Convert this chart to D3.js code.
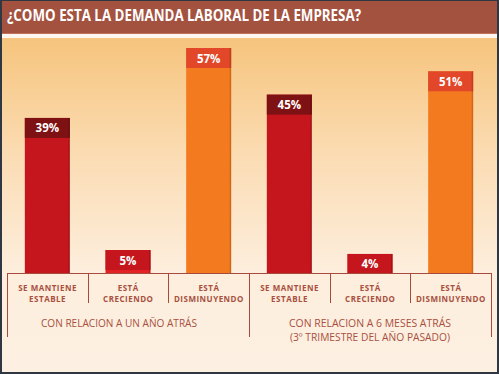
<!DOCTYPE html>
<html><head><meta charset="utf-8">
<script src="https://cdn.jsdelivr.net/npm/d3@7"></script>
<style>html,body{margin:0;padding:0;background:#2e3742;}svg{display:block;}</style>
</head><body>
<script>
const title = "¿COMO ESTA LA DEMANDA LABORAL DE LA EMPRESA?";
const categories = ["g1a","g1b","g1c","g2a","g2b","g2c"];
const categoryLabels = [["SE MANTIENE","ESTABLE"],["ESTÁ","CRECIENDO"],["ESTÁ","DISMINUYENDO"],["SE MANTIENE","ESTABLE"],["ESTÁ","CRECIENDO"],["ESTÁ","DISMINUYENDO"]];
const values = [39, 5, 57, 45, 4, 51];
const kinds = ["estable","creciendo","disminuyendo","estable","creciendo","disminuyendo"];
const groups = [["CON RELACION A UN AÑO ATRÁS"],["CON RELACION A 6 MESES ATRÁS","(3º TRIMESTRE DEL AÑO PASADO)"]];

const W=499,H=374;
const svg=d3.select("body").append("svg").attr("width",W).attr("height",H);
const defs=svg.append("defs");
const g=defs.append("linearGradient").attr("id","bg").attr("x1",0).attr("x2",0).attr("y1",0).attr("y2",1);
g.append("stop").attr("offset","0%").attr("stop-color","#f6c47d");
g.append("stop").attr("offset","35%").attr("stop-color","#fbdcb3");
g.append("stop").attr("offset","70%").attr("stop-color","#fdeedd");
g.append("stop").attr("offset","100%").attr("stop-color","#fdf0e2");

// frame
svg.append("rect").attr("x",0).attr("y",0).attr("width",W).attr("height",H).attr("fill","#2e3742");
svg.append("rect").attr("x",2).attr("y",38).attr("width",495).attr("height",334).attr("fill","url(#bg)");
svg.append("rect").attr("x",2).attr("y",1).attr("width",495).attr("height",33).attr("fill","#a3523f");
svg.append("rect").attr("x",2).attr("y",33).attr("width",495).attr("height",1).attr("fill","#c2705e");
svg.append("rect").attr("x",2).attr("y",34).attr("width",495).attr("height",4).attr("fill","#fdf6f0");
svg.append("text").attr("x",7).attr("y",21).text(title)
  .attr("fill","#ffffff").attr("font-family","Open Sans").attr("font-weight","bold")
  .attr("font-size",15.5).attr("textLength",354).attr("lengthAdjust","spacingAndGlyphs");

const x=d3.scaleBand().domain(categories).range([7,491]).paddingInner(0).paddingOuter(0);
const y=d3.scaleLinear().domain([0,57]).range([269.5,48]);
const base=273, barW=45, capH=20;
const col={
  estable:{cap:"#7d1113",body:"#c5161d"},
  creciendo:{cap:"#c5161d",body:"#e42226"},
  disminuyendo:{cap:"#e2472a",body:"#f47a20"}
};
const data=values.map((v,i)=>({v,cat:categories[i],kind:kinds[i],lab:categoryLabels[i]}));
const bars=svg.append("g").selectAll("g").data(data).join("g");
bars.append("rect")
  .attr("x",d=>x(d.cat)+x.bandwidth()/2-barW/2)
  .attr("y",d=>y(d.v)).attr("width",barW).attr("height",d=>base-y(d.v))
  .attr("fill",d=>col[d.kind].body);
bars.append("rect")
  .attr("x",d=>x(d.cat)+x.bandwidth()/2-barW/2)
  .attr("y",d=>y(d.v)).attr("width",barW).attr("height",d=>Math.min(capH,base-y(d.v)))
  .attr("fill",d=>col[d.kind].cap);
bars.append("rect")
  .attr("x",d=>x(d.cat)+x.bandwidth()/2+barW/2-1.5)
  .attr("y",d=>y(d.v)).attr("width",1.5).attr("height",d=>base-y(d.v))
  .attr("fill","#000").attr("opacity",0.15);
bars.append("text")
  .attr("x",d=>x(d.cat)+x.bandwidth()/2)
  .attr("y",d=>y(d.v)+14.5)
  .attr("text-anchor","middle").attr("fill","#fff")
  .attr("font-family","Open Sans").attr("font-weight","bold").attr("font-size",11.5)
  .text(d=>d.v+"%");

// axis lines
const line="#a64a3c";
const ax=svg.append("g");
ax.append("line").attr("x1",7).attr("x2",491).attr("y1",base+0.5).attr("y2",base+0.5).attr("stroke",line).attr("stroke-width",1);
categories.forEach((c,i)=>{
  const xx=Math.round(x(c))+0.5;
  const outer=(i%3===0);
  ax.append("line").attr("x1",xx).attr("x2",xx).attr("y1",base).attr("y2",outer?337:303).attr("stroke",line);
});
{ const xx=Math.round(x.range()[1])+0.5;
  ax.append("line").attr("x1",xx).attr("x2",xx).attr("y1",base).attr("y2",337).attr("stroke",line); }

const labs=svg.append("g").selectAll("text").data(data).join("text")
  .attr("text-anchor","middle").attr("fill","#a8503f")
  .attr("font-family","Open Sans").attr("font-weight","bold").attr("font-size",8)
  .attr("letter-spacing",0.5);
labs.each(function(d){
  const t=d3.select(this);
  d.lab.forEach((s,k)=>t.append("tspan").attr("x",x(d.cat)+x.bandwidth()/2+0.25).attr("y",290.5+k*11).text(s));
});

const groupWidths=[[156],[162,160]];
groups.forEach((lines,gi)=>{
  const c0=x(categories[gi*3]), c1=x(categories[gi*3+2])+x.bandwidth();
  const cx=(c0+c1)/2 - (gi===0?9:0);
  lines.forEach((s,k)=>svg.append("text").attr("text-anchor","middle").attr("fill","#a8503f")
    .attr("font-family","Open Sans").attr("font-size",11.5)
    .attr("x",cx).attr("y",327+k*14).attr("textLength",groupWidths[gi][k]).attr("lengthAdjust","spacingAndGlyphs").text(s));
});
</script>
</body></html>
